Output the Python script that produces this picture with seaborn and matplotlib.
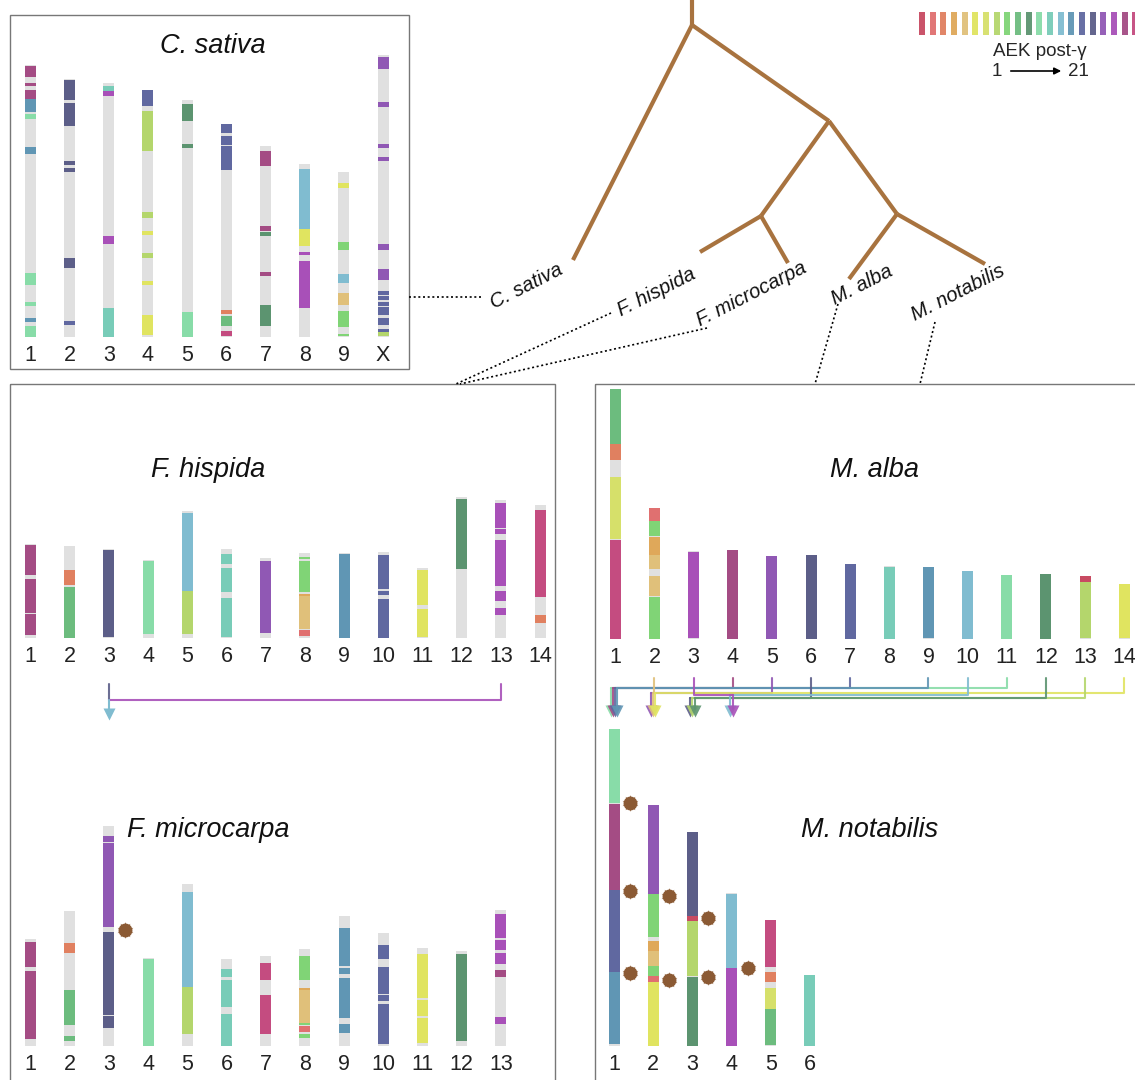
import matplotlib
matplotlib.use("Agg")
import matplotlib.pyplot as plt
from matplotlib.patches import Rectangle
import seaborn as sns

W, H = 1135, 1080

# 21 ancestral eudicot karyotype (AEK post-gamma) colours
AEK_COLORS = [
    "#c84b62", "#e07070", "#e08060", "#dfa85a", "#e0c07a", "#e0e460", "#d6e06a",
    "#b4d66c", "#80d476", "#6cbc7e", "#5c9470", "#88dca8", "#78ccb8", "#80bcd0",
    "#6096b4", "#6068a0", "#5c5e88", "#9058b4", "#a850b8", "#a44c84", "#c44c80",
]
GREY = "#e0e0e0"

# chromosome length + coloured blocks (start, end from top, AEK colour)
CSA_LABELS = ["1", "2", "3", "4", "5", "6", "7", "8", "9", "X"]
CSA_LENGTHS = [272, 258, 254, 247, 237, 213, 191, 173, 165, 282]
CSA_BLOCKS = [
    [(1, 12, 20), (18, 21, 20), (25, 34, 20), (34, 47, 15), (49, 54, 12), (82, 89, 15),
     (208, 220, 12), (237, 241, 12), (253, 257, 15), (261, 272, 12)],
    [(1, 21, 17), (24, 47, 17), (82, 86, 17), (89, 93, 17), (179, 189, 17), (242, 246, 16)],
    [(3, 8, 13), (8, 13, 19), (153, 161, 19), (225, 254, 13)],
    [(0, 16, 16), (21, 61, 8), (122, 128, 8), (141, 145, 6), (163, 168, 8), (191, 195, 6),
     (225, 245, 6)],
    [(4, 21, 11), (44, 48, 11), (212, 237, 12)],
    [(0, 9, 16), (12, 21, 16), (22, 46, 16), (186, 190, 3), (192, 202, 10), (207, 212, 21)],
    [(5, 20, 20), (80, 85, 20), (86, 90, 11), (126, 130, 20), (159, 180, 11)],
    [(5, 65, 14), (65, 82, 6), (88, 91, 19), (97, 144, 19)],
    [(11, 16, 6), (70, 78, 9), (102, 111, 14), (121, 133, 5), (139, 155, 9), (162, 164, 9)],
    [(2, 14, 18), (47, 52, 18), (89, 93, 18), (102, 106, 18), (189, 195, 18), (214, 225, 18),
     (236, 240, 16), (241, 245, 16), (247, 251, 16), (252, 260, 16), (263, 270, 16),
     (274, 277, 16), (277, 281, 8)],
]

FHI_LABELS = [str(i) for i in range(1, 15)]
FHI_LENGTHS = [94, 92, 89, 78, 127, 89, 80, 85, 85, 86, 70, 141, 138, 133]
FHI_BLOCKS = [
    [(1, 31, 20), (35, 69, 20), (70, 91, 20)],
    [(24, 39, 3), (41, 92, 10)],
    [(1, 88, 17)],
    [(1, 74, 12)],
    [(2, 80, 14), (80, 123, 8)],
    [(5, 15, 13), (19, 43, 13), (49, 88, 13)],
    [(3, 75, 18)],
    [(4, 6, 9), (8, 39, 9), (41, 43, 4), (43, 76, 5), (77, 83, 2)],
    [(1, 85, 15)],
    [(3, 37, 16), (39, 43, 16), (47, 86, 16)],
    [(2, 37, 6), (41, 69, 6)],
    [(2, 72, 11)],
    [(3, 28, 19), (29, 34, 19), (40, 86, 19), (91, 101, 19), (108, 115, 19)],
    [(5, 92, 21), (110, 118, 3)],
]

FMI_LABELS = [str(i) for i in range(1, 14)]
FMI_LENGTHS = [107, 135, 220, 88, 162, 87, 90, 97, 130, 113, 98, 95, 136]
FMI_BLOCKS = [
    [(3, 28, 20), (32, 100, 20)],
    [(32, 42, 3), (79, 114, 10), (125, 130, 10)],
    [(10, 16, 18), (17, 101, 18), (106, 189, 17), (190, 202, 17)],
    [(1, 88, 12)],
    [(8, 103, 14), (103, 150, 8)],
    [(10, 18, 13), (21, 48, 13), (55, 87, 13)],
    [(7, 24, 21), (39, 78, 21)],
    [(7, 31, 9), (39, 41, 4), (41, 74, 5), (74, 76, 9), (77, 83, 2), (85, 89, 9)],
    [(12, 50, 15), (52, 58, 15), (62, 102, 15), (108, 117, 15)],
    [(12, 26, 16), (34, 61, 16), (62, 68, 16), (71, 111, 16)],
    [(6, 50, 6), (52, 68, 6), (70, 95, 6)],
    [(3, 90, 11)],
    [(4, 28, 19), (30, 40, 19), (43, 54, 19), (60, 67, 20), (107, 114, 19)],
]
FMI_STAR_CHR = [3]
FMI_STAR_POS = [104]

MAL_LABELS = [str(i) for i in range(1, 15)]
MAL_LENGTHS = [250, 131, 88, 89, 83, 84, 75, 73, 72, 68, 64, 65, 63, 55]
MAL_BLOCKS = [
    [(0, 55, 10), (55, 71, 3), (88, 150, 7), (151, 250, 21)],
    [(0, 13, 2), (13, 28, 9), (29, 47, 4), (47, 61, 5), (68, 88, 5), (89, 131, 9)],
    [(1, 87, 19)],
    [(0, 89, 20)],
    [(0, 83, 18)],
    [(0, 84, 17)],
    [(0, 75, 16)],
    [(1, 73, 13)],
    [(0, 71, 15)],
    [(0, 68, 14)],
    [(0, 64, 12)],
    [(0, 65, 11)],
    [(0, 6, 1), (6, 62, 8)],
    [(0, 54, 6)],
]

MNO_LABELS = [str(i) for i in range(1, 7)]
MNO_LENGTHS = [317, 241, 214, 153, 126, 71]
MNO_BLOCKS = [
    [(0, 74, 12), (75, 161, 20), (161, 243, 16), (243, 315, 15)],
    [(0, 89, 18), (89, 132, 9), (136, 146, 4), (146, 161, 5), (161, 171, 9), (171, 177, 2),
     (177, 241, 6)],
    [(0, 84, 17), (84, 89, 1), (89, 144, 8), (145, 214, 11)],
    [(1, 75, 14), (75, 153, 19)],
    [(0, 47, 21), (52, 62, 3), (68, 89, 7), (89, 125, 10)],
    [(0, 71, 13)],
]
MNO_STAR_CHR = [1, 1, 1, 2, 2, 3, 3, 4]
MNO_STAR_POS = [74, 162, 244, 91, 175, 86, 145, 75]

# fusions: source chromosome -> target chromosome, line colour
MAL_LINK_SRC = [11, 4, 7, 9, 5, 2, 14, 6, 13, 12, 10, 3]
MAL_LINK_DST = [1, 1, 1, 1, 2, 2, 2, 3, 3, 3, 4, 4]
MAL_LINK_COL = [12, 20, 16, 15, 18, 5, 6, 17, 8, 11, 14, 19]
FHI_LINK_SRC = [3, 13]
FHI_LINK_DST = [3, 3]
FHI_LINK_COL = [17, 19]

# species tree (node name -> position in the figure)
TREE_NODES = {
    "stem": (692, 0), "root": (692, 25), "n1": (829, 121), "nF": (761, 216),
    "nM": (897, 214), "Csa": (573, 260), "Fhi": (700, 252), "Fmi": (788, 263),
    "Mal": (849, 279), "Mno": (985, 264),
}
TREE_EDGES = [("stem", "root"), ("root", "Csa"), ("root", "n1"), ("n1", "nF"),
              ("n1", "nM"), ("nF", "Fhi"), ("nF", "Fmi"), ("nM", "Mal"), ("nM", "Mno")]
TREE_LABELS = ["C. sativa", "F. hispida", "F. microcarpa", "M. alba", "M. notabilis"]

sns.set_theme(style="white")
plt.rcParams["font.family"] = ["Liberation Sans", "DejaVu Sans"]

fig = plt.figure(figsize=(W / 100, H / 100), dpi=100)

ov = fig.add_axes([0, 0, 1, 1])
ov.set_xlim(0, W)
ov.set_ylim(H, 0)
ov.axis("off")


def px_axes(left, top, width, height):
    return fig.add_axes([left / W, 1 - (top + height) / H, width / W, height / H])


def draw_genome(first_x, bottom, lengths, blocks, labels, step=39.2, bar=11):
    n = len(lengths)
    top_units = max(lengths) + 10
    ax = px_axes(first_x - step / 2, bottom - top_units, n * step, top_units)
    ax.set_xlim(0.5, n + 0.5)
    ax.set_ylim(0, top_units)
    xs = list(range(1, n + 1))
    w = bar / step
    ax.bar(xs, lengths, width=w, color=GREY, linewidth=0)
    for x, length, segs in zip(xs, lengths, blocks):
        for start, end, c in segs:
            ax.bar(x, end - start, bottom=length - end, width=w,
                   color=AEK_COLORS[c - 1], linewidth=0)
    ax.set_xticks(xs)
    ax.set_xticklabels(labels, fontsize=15.5, color="#222222")
    ax.tick_params(axis="x", length=0, pad=5.5)
    ax.set_yticks([])
    sns.despine(ax=ax, left=True, bottom=True)
    ax.patch.set_alpha(0)
    return ax


def add_stars(ax, lengths, chrs, pos):
    for c, p in zip(chrs, pos):
        ax.plot(c + 0.41, lengths[c - 1] - p, marker="o", ms=9, color="#8b5a34",
                mec="#8b5a34", clip_on=False, zorder=5)
        ax.plot(c + 0.41, lengths[c - 1] - p, marker=(10, 1, 0), ms=12, color="#8b5a34",
                mec="none", clip_on=False, zorder=5)


csa = draw_genome(30.3, 337, CSA_LENGTHS, CSA_BLOCKS, CSA_LABELS)
fhi = draw_genome(30.5, 638, FHI_LENGTHS, FHI_BLOCKS, FHI_LABELS)
fmi = draw_genome(30.5, 1046, FMI_LENGTHS, FMI_BLOCKS, FMI_LABELS)
mal = draw_genome(615.3, 639, MAL_LENGTHS, MAL_BLOCKS, MAL_LABELS, step=39.15)
mno = draw_genome(614, 1046, MNO_LENGTHS, MNO_BLOCKS, MNO_LABELS)
add_stars(fmi, FMI_LENGTHS, FMI_STAR_CHR, FMI_STAR_POS)
add_stars(mno, MNO_LENGTHS, MNO_STAR_CHR, MNO_STAR_POS)


def chrom_px(ax, c):
    return ov.transData.inverted().transform(ax.transData.transform((c, 0)))[0]


# panel frames
for x0, y0, x1, y1 in [(10, 15, 409, 369), (10, 384, 555, 1090), (595, 384, 1145, 1090)]:
    ov.add_patch(Rectangle((x0, y0), x1 - x0, y1 - y0, fill=False,
                           edgecolor="#777777", linewidth=1))

# panel titles
title_kw = dict(fontsize=19.5, style="italic", ha="center", va="center", color="#111111")
ov.text(213, 46, "C. sativa", **title_kw)
ov.text(208, 470, "F. hispida", **title_kw)
ov.text(208, 830, "F. microcarpa", **title_kw)
ov.text(874, 470, "M. alba", **title_kw)
ov.text(870, 830, "M. notabilis", **title_kw)

# tree
for a, b in TREE_EDGES:
    (xa, ya), (xb, yb) = TREE_NODES[a], TREE_NODES[b]
    ov.plot([xa, xb], [ya, yb], color="#a8733f", lw=3, solid_capstyle="butt")

label_pos = [(527, 286), (657, 292), (752, 294), (862, 285), (958, 293)]
for name, (x, y) in zip(TREE_LABELS, label_pos):
    ov.text(x, y, name, fontsize=14.5, style="italic", rotation=27,
            ha="center", va="center", rotation_mode="anchor", color="#111111")

dot_kw = dict(color="black", lw=1.2, linestyle=(0, (1.2, 1.6)))
ov.plot([409, 481], [297, 297], **dot_kw)
ov.plot([611, 456], [313, 384], **dot_kw)
ov.plot([707, 460], [328, 384], **dot_kw)
ov.plot([838, 815], [304, 384], **dot_kw)
ov.plot([935, 920], [322, 384], **dot_kw)

# AEK legend
leg_x = [922 + 10.67 * i for i in range(len(AEK_COLORS))]
ov.bar(leg_x, 23, bottom=12, width=6, color=AEK_COLORS, linewidth=0, alpha=0.95)
ov.text(1040, 52, "AEK post-γ", fontsize=13.5, ha="center", va="center")
ov.text(997, 71, "1", fontsize=13.5, ha="center", va="center")
ov.text(1078, 71, "21", fontsize=13.5, ha="center", va="center")
ov.annotate("", xy=(1064, 71), xytext=(1008, 71),
            arrowprops=dict(arrowstyle="-|>", color="black", lw=1.2, mutation_scale=10))


# fusion connectors
def draw_links(src_ax, dst_ax, srcs, dsts, cols, y_start, levels, arrow_col=None):
    for dst in sorted(set(dsts)):
        group = [(s, c) for s, d, c in zip(srcs, dsts, cols) if d == dst]
        for k, (s, c) in enumerate(group):
            off = (k - (len(group) - 1) / 2) * 2.2 if arrow_col is None else 0
            xs = chrom_px(src_ax, s)
            xd = chrom_px(dst_ax, dst) + off
            lvl = levels[dst]
            color = AEK_COLORS[c - 1]
            ov.plot([xs, xs, xd], [y_start, lvl, lvl], color=color, lw=1.5, alpha=0.9)
            if arrow_col is None:
                ov.plot([xd, xd], [lvl, 709], color=color, lw=1.5, alpha=0.9)
                ov.plot(xd, 711, marker="v", ms=8, color=color, mec="none", alpha=0.9)
        if arrow_col is not None:
            xd = chrom_px(dst_ax, dst)
            acol = AEK_COLORS[arrow_col - 1]
            ov.plot([xd, xd], [levels[dst], 712], color=acol, lw=1.5)
            ov.plot(xd, 714, marker="v", ms=8, color=acol, mec="none")


draw_links(mal, mno, MAL_LINK_SRC, MAL_LINK_DST, MAL_LINK_COL, 677.5,
           {1: 688, 2: 692.5, 3: 697.5, 4: 694.5})
draw_links(fhi, fmi, FHI_LINK_SRC, FHI_LINK_DST, FHI_LINK_COL, 683.5, {3: 700},
           arrow_col=14)

fig.savefig("out.png", dpi=100, facecolor="white")
